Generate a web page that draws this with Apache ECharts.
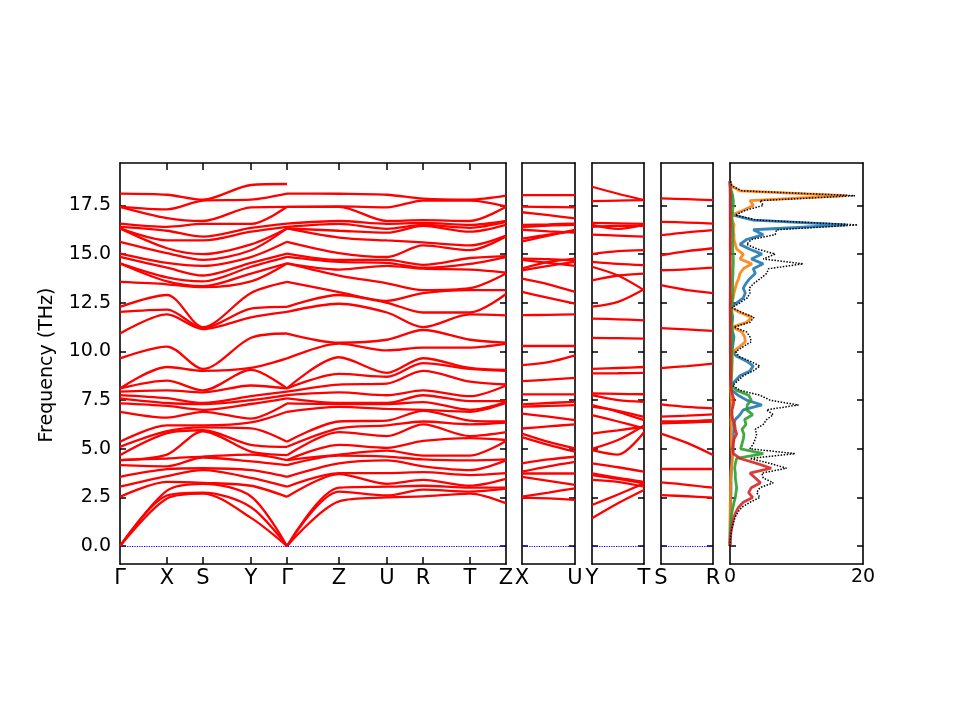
<!DOCTYPE html>
<html>
<head>
<meta charset="utf-8">
<title>Bandas de fonones</title>
<script src="https://cdn.jsdelivr.net/npm/echarts@6/dist/echarts.min.js"></script>
<style>
  html, body { margin: 0; padding: 0; background: #fff; }
  #grafico { width: 960px; height: 720px; }
</style>
</head>
<body>
<div id="grafico"></div>
<script>
// Puntos de alta simetría del camino principal (distancia k)
const kMain = [0, 47, 83, 131, 167, 219, 267, 303, 350, 386];
const kLabels = ["Γ", "X", "S", "Y", "Γ", "Z", "U", "R", "T", "Z"];

// Frecuencias (THz) de las bandas en cada punto de alta simetría
const bandsG = [0, 0, 0, 2.53, 3.05, 3.56, 4.16, 4.42, 4.42, 4.67, 5.10, 5.36, 6.90, 7.33, 7.59, 7.76, 7.93, 8.10, 8.10,
  9.64, 10.92, 12.03, 12.29, 13.57, 14.52, 14.52, 14.86, 15.03, 15.63, 16.32, 16.32, 16.40, 16.57, 17.43, 17.43, 18.11];
const bandsX = [2.45, 2.6, 2.85, 3.3, 3.6, 3.95, 4.1, 4.5, 4.7, 5.8, 5.9, 6.2, 6.6, 7.2, 7.35, 7.6, 8.0, 8.5, 9.2,
  10.25, 11.9, 12.15, 12.9, 13.45, 13.6, 13.8, 14.3, 14.55, 15.05, 15.3, 15.7, 16.2, 16.4, 16.85, 17.3, 18.05];
const bandsS = [2.7, 2.75, 3.2, 3.25, 3.9, 4.0, 4.55, 4.6, 5.9, 5.95, 6.1, 6.2, 6.9, 7.0, 7.3, 7.35, 7.9, 8.0, 9.0,
  9.1, 11.15, 11.2, 11.25, 13.3, 13.35, 13.6, 13.9, 14.4, 14.7, 15.0, 15.7, 15.9, 16.55, 16.7, 17.75, 17.8];
const bandsY = [1.45, 2.0, 2.55, 3.1, 3.5, 3.9, 4.35, 4.7, 4.85, 5.2, 6.05, 6.35, 6.55, 7.3, 7.5, 7.7, 8.25, 9.05, 9.15,
  10.7, 11.75, 12.2, 13.0, 13.6, 14.0, 14.35, 14.55, 14.85, 15.2, 15.5, 16.15, 16.35, 16.55, 17.4, 17.8, 18.55];
const bandsG2 = [0, 0, 0, 2.53, 3.05, 3.56, 4.16, 4.42, 4.67, 5.10, 5.36, 6.90, 7.33, 7.59, 7.76, 7.93, 8.10, 8.10,
  9.64, 10.92, 12.03, 12.29, 13.57, 14.52, 14.52, 14.86, 15.03, 15.63, 16.32, 16.32, 16.40, 16.57, 17.43, 17.43, 18.11, 18.6];
const bandsZ = [2.3, 2.8, 3.0, 3.7, 3.75, 4.25, 4.65, 4.7, 5.2, 5.85, 6.05, 6.4, 7.15, 7.3, 7.35, 7.9, 8.3, 8.85, 9.7,
  10.4, 10.45, 12.45, 12.9, 13.05, 13.9, 14.2, 14.6, 14.7, 15.05, 15.85, 16.2, 16.55, 16.7, 17.43, 17.45, 18.1];
const bandsU = [2.5, 2.6, 3.05, 3.2, 3.75, 4.4, 4.6, 4.9, 5.05, 5.65, 6.2, 6.45, 7.05, 7.3, 7.35, 7.75, 8.35, 8.7, 8.9,
  10.05, 10.6, 12.0, 12.5, 12.6, 13.5, 14.4, 14.55, 14.7, 14.85, 15.7, 16.1, 16.3, 16.55, 16.7, 17.4, 18.05];
const bandsR = [2.55, 2.9, 3.1, 3.4, 3.8, 4.1, 4.45, 4.65, 5.4, 6.25, 6.4, 6.95, 7.0, 7.4, 7.75, 8.0, 9.0, 9.4, 9.65,
  10.2, 11.1, 11.25, 12.0, 13.0, 13.15, 14.25, 14.3, 14.45, 15.45, 15.6, 16.45, 16.5, 16.6, 16.75, 17.75, 17.85];
const bandsT = [2.7, 2.8, 3.0, 3.1, 3.65, 3.9, 4.4, 4.65, 5.55, 5.65, 6.25, 6.45, 6.9, 7.0, 7.45, 7.7, 8.45, 9.1, 9.15,
  10.2, 10.6, 11.9, 12.0, 13.15, 13.25, 14.2, 14.5, 14.8, 15.2, 15.45, 16.15, 16.35, 16.5, 16.7, 17.75, 17.8];
const bandsZ2 = [2.2, 2.95, 3.0, 3.45, 3.75, 4.4, 4.45, 5.4, 5.45, 5.85, 6.35, 6.4, 7.35, 7.4, 7.45, 8.25, 8.3, 9.0, 9.05,
  10.4, 10.45, 11.85, 12.95, 13.15, 14.0, 14.05, 14.85, 14.9, 15.9, 15.95, 16.5, 16.65, 16.7, 17.43, 17.45, 18.0];

// Paneles cortos: inicio, centro y final de cada banda
const xuLabels = ["X", "U"];
const xuL = [18.03, 17.44, 17.15, 16.5, 16.4, 16.25, 15.8, 15.65, 14.77, 14.26, 14.17, 14.7, 13.74, 13.06, 11.86, 10.28, 9.3,
  8.47, 7.79, 7.28, 7.16, 6.81, 6.04, 5.78, 5.6, 4.25, 3.82, 3.73, 3.56, 2.54, 2.49];
const xuM = [18.03, 17.42, 17.0, 16.53, 16.47, 16.17, 16.0, 15.95, 14.74, 14.6, 14.4, 14.55, 13.45, 12.75, 11.88, 10.28, 9.45,
  8.55, 7.79, 7.35, 7.2, 6.65, 6.15, 5.35, 5.2, 4.45, 4.1, 3.73, 3.35, 2.75, 2.45];
const xuR = [18.03, 17.4, 16.83, 16.57, 16.5, 16.1, 16.25, 16.2, 14.65, 14.77, 14.6, 14.4, 13.06, 12.46, 11.9, 10.28, 9.8,
  8.64, 7.79, 7.41, 7.24, 6.47, 6.25, 5.02, 4.85, 4.59, 4.33, 3.73, 3.14, 2.97, 2.37];

const ytLabels = ["Y", "T"];
const ytL = [18.46, 17.72, 16.6, 16.5, 16.4, 16.0, 15.0, 14.6, 14.35, 13.65, 12.3, 11.69, 10.7, 9.1, 8.87,
  7.84, 7.76, 7.24, 7.16, 6.73, 5.78, 5.0, 4.93, 4.25, 3.73, 3.65, 3.4, 2.11, 1.43];
const ytM = [18.1, 17.75, 16.58, 16.3, 16.45, 15.95, 15.15, 14.5, 13.9, 13.9, 12.55, 11.65, 10.68, 9.15, 8.88,
  7.82, 7.5, 6.9, 6.95, 6.4, 5.95, 5.45, 4.7, 4.05, 3.5, 3.45, 3.3, 2.65, 2.2];
const ytR = [17.77, 17.77, 16.55, 16.5, 16.45, 15.9, 15.2, 14.43, 13.15, 14.0, 13.2, 11.6, 10.66, 9.2, 8.9,
  7.8, 7.41, 6.47, 6.64, 6.05, 6.13, 6.2, 5.85, 3.82, 3.3, 3.22, 3.05, 3.22, 2.88];

const srLabels = ["S", "R"];
const srL = [2.62, 3.27, 3.96, 5.78, 6.3, 6.4, 6.65, 7.28, 9.14, 11.2, 13.4, 14.17, 14.94, 15.97, 16.66, 17.86];
const srM = [2.56, 3.15, 3.96, 5.3, 6.35, 6.42, 6.7, 7.15, 9.25, 11.13, 13.15, 14.22, 15.15, 16.12, 16.62, 17.82];
const srR = [2.49, 3.0, 3.96, 4.68, 6.4, 6.47, 6.77, 7.07, 9.37, 11.06, 13.0, 14.3, 15.3, 16.23, 16.57, 17.77];

// Densidad de estados (frecuencia en THz y DOS por proyección)
const dosFreq = [0, 0.25, 0.5, 0.75, 1, 1.25, 1.5, 1.75,
  2, 2.25, 2.5, 2.75, 3, 3.25, 3.5, 3.75,
  4, 4.25, 4.5, 4.75, 5, 5.25, 5.5, 5.75,
  6, 6.25, 6.5, 6.75, 7, 7.25, 7.5, 7.75,
  8, 8.25, 8.5, 8.75, 9, 9.25, 9.5, 9.75,
  10, 10.25, 10.5, 10.75, 11, 11.25, 11.5, 11.75,
  12, 12.25, 12.5, 12.75, 13, 13.25, 13.5, 13.75,
  14, 14.25, 14.5, 14.75, 15, 15.25, 15.5, 15.75,
  16, 16.25, 16.5, 16.75, 17, 17.25, 17.5, 17.75,
  18, 18.25, 18.5, 18.75];
const dosTotal = [0, 0.03, 0.1, 0.2, 0.35, 0.55, 0.8, 1.2,
  1.8, 3.0, 4.5, 4.0, 4.5, 6.5, 5.0, 4.8,
  8.5, 6.0, 3.0, 9.8, 3.0, 3.5, 3.8, 4.0,
  3.8, 5.0, 5.5, 6.5, 5.5, 10.3, 6.0, 4.5,
  1.5, 0.4, 1.2, 2.0, 3.5, 4.5, 3.0, 1.3,
  0.9, 2.0, 3.2, 3.0, 2.5, 0.6, 3.0, 3.6,
  1.8, 0.3, 1.5, 2.6, 3.0, 2.9, 3.6, 4.6,
  5.5, 5.8, 11.0, 5.0, 6.8, 4.2, 2.5, 3.2,
  6.8, 7.0, 19.2, 4.0, 0.8, 2.3, 5.0, 4.5,
  18.8, 1.8, 0.3, 0];
const dosBlue = [0, 0.005, 0.01, 0.02, 0.03, 0.04, 0.05, 0.06,
  0.08, 0.1, 0.12, 0.15, 0.15, 0.15, 0.15, 0.2,
  0.2, 0.25, 0.3, 0.4, 0.5, 0.4, 0.5, 0.5,
  0.6, 0.5, 0.8, 1.5, 2.0, 4.8, 2.5, 1.2,
  0.3, 0.1, 0.8, 1.5, 3.0, 3.5, 2.5, 1.0,
  0.3, 0.4, 0.5, 0.6, 0.4, 0.2, 0.3, 0.4,
  0.2, 0.1, 1.0, 2.0, 2.3, 2.0, 2.4, 3.0,
  3.8, 3.5, 5.0, 3.2, 4.8, 3.0, 1.5, 2.5,
  5.0, 3.5, 17.5, 3.5, 0.5, 0.1, 0.1, 0.2,
  0.3, 0.1, 0.02, 0];
const dosOrange = [0, 0, 0.01, 0.01, 0.02, 0.02, 0.03, 0.03,
  0.04, 0.05, 0.05, 0.06, 0.07, 0.08, 0.1, 0.12,
  0.2, 0.3, 0.35, 0.3, 0.25, 0.2, 0.2, 0.2,
  0.2, 0.15, 0.15, 0.2, 0.2, 0.25, 0.2, 0.15,
  0.1, 0.05, 0.1, 0.2, 0.3, 0.3, 0.3, 0.3,
  0.5, 1.5, 2.3, 2.2, 1.8, 0.3, 2.5, 3.3,
  1.5, 0.1, 0.3, 0.5, 0.6, 0.8, 1.0, 1.3,
  1.5, 2.0, 3.3, 1.5, 2.0, 1.0, 0.8, 0.6,
  0.6, 0.5, 0.6, 0.3, 0.2, 2.0, 3.5, 3.0,
  17.5, 1.5, 0.2, 0];
const dosGreen = [0, 0.01, 0.03, 0.06, 0.1, 0.15, 0.2, 0.3,
  0.45, 0.6, 0.8, 0.9, 1.0, 0.9, 0.8, 0.8,
  0.7, 0.8, 1.0, 5.0, 1.6, 1.8, 2.0, 2.1,
  1.8, 2.4, 2.2, 3.4, 2.5, 2.6, 3.2, 2.8,
  1.0, 0.2, 0.2, 0.2, 0.2, 0.25, 0.3, 0.3,
  0.3, 0.3, 0.35, 0.35, 0.3, 0.3, 0.3, 0.35,
  0.3, 0.1, 0.3, 0.35, 0.4, 0.4, 0.4, 0.4,
  0.45, 0.45, 0.5, 0.5, 0.45, 0.4, 0.4, 0.4,
  0.4, 0.4, 0.35, 0.3, 0.3, 0.4, 0.5, 0.5,
  0.4, 0.2, 0.05, 0];
const dosRed = [0, 0.02, 0.08, 0.15, 0.3, 0.45, 0.6, 0.9,
  1.3, 2.0, 3.4, 2.8, 3.2, 4.6, 3.8, 3.0,
  6.2, 4.0, 1.5, 0.5, 0.4, 0.5, 0.6, 1.0,
  0.8, 0.7, 0.4, 0.3, 0.3, 0.5, 0.6, 0.4,
  0.2, 0.1, 0.1, 0.1, 0.08, 0.08, 0.06, 0.06,
  0.05, 0.05, 0.05, 0.05, 0.05, 0.04, 0.04, 0.04,
  0.03, 0.02, 0.03, 0.04, 0.04, 0.04, 0.05, 0.05,
  0.05, 0.05, 0.05, 0.05, 0.05, 0.04, 0.04, 0.04,
  0.05, 0.05, 0.05, 0.04, 0.03, 0.03, 0.03, 0.03,
  0.04, 0.02, 0.01, 0];

// Marcas del eje de frecuencias
const yTicks = [0, 2.5, 5, 7.5, 10, 12.5, 15, 17.5];
const fMin = -0.92;
const fMax = 19.68;

const fuente = "DejaVu Sans";
const negro = "#000";
const azul = "#0000ff";

// Paneles: principal, X-U, Y-T, S-R y DOS
const paneles = [
  { left: 120, width: 386 },
  { left: 522, width: 53 },
  { left: 592, width: 52 },
  { left: 661, width: 52 },
  { left: 730, width: 133 },
];

function ejeY(g, pos, conEtiquetas) {
  return {
    type: "value", gridIndex: g, position: pos, min: fMin, max: fMax,
    axisLine: { show: true, onZero: false, lineStyle: { color: negro, width: 1.6 } },
    axisTick: { show: true, inside: true, length: 6, customValues: yTicks, lineStyle: { color: negro, width: 1.5 } },
    axisLabel: {
      show: conEtiquetas, customValues: yTicks, margin: 9,
      formatter: (v) => v.toFixed(1),
      fontFamily: fuente, fontSize: 19, color: negro,
    },
    splitLine: { show: false },
  };
}

function ejeX(g, pos, min, max, ticks, etiquetas, nombres) {
  return {
    type: "value", gridIndex: g, position: pos, min: min, max: max,
    axisLine: { show: true, onZero: false, lineStyle: { color: negro, width: 1.6 } },
    axisTick: { show: ticks.length > 0, inside: true, length: 7, customValues: ticks, lineStyle: { color: negro, width: 1.5 } },
    axisLabel: {
      show: etiquetas.length > 0, customValues: etiquetas, margin: 4,
      showMinLabel: true, showMaxLabel: true, hideOverlap: false,
      formatter: (v) => nombres[etiquetas.indexOf(v)],
      fontFamily: fuente, fontSize: 21, color: negro,
    },
    splitLine: { show: false },
  };
}

let grids = paneles.map((p) => ({ left: p.left, width: p.width, top: 163, height: 401 }));

let xAxes = [];
let yAxes = [];
// Panel principal
xAxes.push(ejeX(0, "bottom", 0, 386, kMain.slice(1, -1), kMain, kLabels));
xAxes.push(ejeX(0, "top", 0, 386, kMain.slice(1, -1), [], []));
// Paneles cortos
[xuLabels, ytLabels, srLabels].forEach((nombres, i) => {
  xAxes.push(ejeX(i + 1, "bottom", 0, 1, [], [0, 1], nombres));
  xAxes.push(ejeX(i + 1, "top", 0, 1, [], [], []));
});
// Panel DOS
xAxes.push(ejeX(4, "bottom", 0, 20, [], [0, 20], ["0", "20"]));
xAxes.push(ejeX(4, "top", 0, 20, [], [], []));
xAxes[8].axisLabel.fontSize = 19;

paneles.forEach((p, g) => {
  yAxes.push(ejeY(g, "left", g === 0));
  yAxes.push(ejeY(g, "right", false));
});

let series = [];

// Línea punteada azul en frecuencia cero
function lineaCero() {
  return {
    silent: true, symbol: ["none", "none"], animation: false,
    label: { show: false },
    itemStyle: { color: azul },
    lineStyle: { color: azul, type: "dotted", width: 1.2, opacity: 1 },
    data: [{ yAxis: 0, lineStyle: { color: azul } }],
  };
}

function serieBanda(g, puntos, conCero) {
  let s = {
    type: "line", xAxisIndex: 2 * g, yAxisIndex: 2 * g, data: puntos,
    symbol: "none", smooth: 0.3, silent: true, z: 3,
    lineStyle: { color: "#ff0000", width: 2.3 },
  };
  if (conCero) s.markLine = lineaCero();
  return s;
}

// Bandas del camino principal: Γ-X-S-Y-Γ y Γ-Z-U-R-T-Z
const caminoA = [bandsG, bandsX, bandsS, bandsY, bandsG2];
const caminoB = [bandsG, bandsZ, bandsU, bandsR, bandsT, bandsZ2];
for (let b = 0; b < bandsG.length; b++) {
  series.push(serieBanda(0, caminoA.map((lista, i) => [kMain[i], lista[b]]), b === 0));
  series.push(serieBanda(0, caminoB.map((lista, i) => [kMain[i + 4], lista[b]]), false));
}

// Bandas de los paneles cortos
function panelCorto(g, izq, med, der) {
  izq.forEach((v, b) => {
    series.push(serieBanda(g, [[0, v], [0.5, med[b]], [1, der[b]]], b === 0));
  });
}
panelCorto(1, xuL, xuM, xuR);
panelCorto(2, ytL, ytM, ytR);
panelCorto(3, srL, srM, srR);

// Curvas de la densidad de estados
function serieDos(datos, color, tipo, ancho, opacidad) {
  return {
    type: "line", xAxisIndex: 8, yAxisIndex: 8, symbol: "none", silent: true, z: 4,
    data: dosFreq.map((f, i) => [datos[i], f]),
    lineStyle: { color: color, type: tipo, width: ancho, opacity: opacidad },
  };
}
series.push(serieDos(dosBlue, "#1f77b4", "solid", 2.8, 0.9));
series.push(serieDos(dosOrange, "#ff7f0e", "solid", 2.8, 0.9));
series.push(serieDos(dosGreen, "#2ca02c", "solid", 2.8, 0.9));
series.push(serieDos(dosRed, "#d62728", "solid", 2.8, 0.9));
series.push(serieDos(dosTotal, negro, "dotted", 1.5, 1));

const grafico = echarts.init(document.getElementById("grafico"));
grafico.setOption({
  animation: false,
  backgroundColor: "#fff",
  grid: grids,
  xAxis: xAxes,
  yAxis: yAxes,
  series: series,
  graphic: [{
    type: "text", x: 47, y: 365, rotation: Math.PI / 2,
    style: {
      text: "Frequency (THz)", fontFamily: fuente, fontSize: 19, fill: negro,
      align: "center", verticalAlign: "middle",
    },
  }],
});
</script>
</body>
</html>
